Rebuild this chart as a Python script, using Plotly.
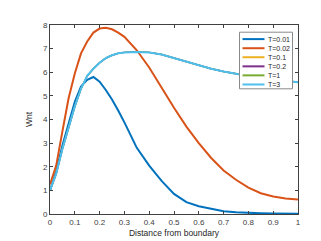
import plotly.graph_objects as go

x_vals = [0, 0.025, 0.05, 0.075, 0.1, 0.125, 0.15, 0.175, 0.2, 0.225, 0.25, 0.275, 0.3,
          0.35, 0.4, 0.45, 0.5, 0.55, 0.6, 0.65, 0.7, 0.75, 0.8, 0.85, 0.9, 0.95, 1.0]

wnt_T001 = [1.0, 1.8, 2.9, 3.85, 4.75, 5.4, 5.68, 5.8, 5.6, 5.25, 4.85, 4.38, 3.88,
            2.8, 2.05, 1.4, 0.85, 0.5, 0.33, 0.22, 0.12, 0.07, 0.04, 0.03, 0.02, 0.015, 0.01]
wnt_T002 = [1.25, 2.05, 3.5, 4.9, 5.95, 6.8, 7.3, 7.68, 7.85, 7.88, 7.82, 7.68, 7.5,
            6.93, 6.2, 5.34, 4.5, 3.7, 3.0, 2.37, 1.84, 1.45, 1.12, 0.88, 0.74, 0.66, 0.61]
wnt_T3 = [1.0, 1.7, 2.75, 3.7, 4.55, 5.3, 5.85, 6.15, 6.4, 6.6, 6.72, 6.8, 6.84,
          6.86, 6.84, 6.75, 6.6, 6.42, 6.28, 6.15, 6.03, 5.92, 5.84, 5.77, 5.7, 5.64, 5.58]
wnt_T01 = list(wnt_T3)
wnt_T02 = list(wnt_T3)
wnt_T1 = list(wnt_T3)

series_names = ["T=0.01", "T=0.02", "T=0.1", "T=0.2", "T=1", "T=3"]
series_data = [wnt_T001, wnt_T002, wnt_T01, wnt_T02, wnt_T1, wnt_T3]
colors = ["#0072BD", "#D95319", "#EDB120", "#7E2F8E", "#77AC30", "#4DBEEE"]
widths = [2, 2, 1.4, 1.4, 1.4, 2]

x_ticks = [0, 0.1, 0.2, 0.3, 0.4, 0.5, 0.6, 0.7, 0.8, 0.9, 1]
x_tick_labels = ["0", "0.1", "0.2", "0.3", "0.4", "0.5", "0.6", "0.7", "0.8", "0.9", "1"]
y_ticks = [0, 1, 2, 3, 4, 5, 6, 7, 8]

fig = go.Figure()
for name, ys, c, w in zip(series_names, series_data, colors, widths):
    fig.add_trace(go.Scatter(x=x_vals, y=ys, mode="lines", name=name,
                             line=dict(color=c, width=w), showlegend=False))

axis_col = "#404040"
font_fam = "Liberation Sans, Arial, sans-serif"
common = dict(showline=True, linecolor=axis_col, linewidth=1, mirror="ticks",
              ticks="inside", ticklen=3, tickcolor=axis_col, showgrid=False,
              zeroline=False, tickfont=dict(size=8, color=axis_col, family=font_fam))
fig.update_xaxes(range=[0, 1], tickvals=x_ticks, ticktext=x_tick_labels,
                 title=dict(text="Distance from boundary", font=dict(size=8.5, color="#262626", family=font_fam), standoff=4),
                 **common)
fig.update_yaxes(range=[0, 8], tickvals=y_ticks,
                 title=dict(text="Wnt", font=dict(size=8.5, color="#262626", family=font_fam), standoff=8),
                 **common)

# Manual compact legend (MATLAB style), in paper coordinates
L, R, T, B = 42, 290, 17, 214
def px(xp):
    return (xp - L) / (R - L)
def py(yp):
    return (B - yp) / (B - T)

fig.add_shape(type="rect", xref="paper", yref="paper",
              x0=px(231.5), x1=px(284.5), y0=py(83.5), y1=py(24.5),
              line=dict(color="#8a8a8a", width=1), fillcolor="white", layer="above")
row_y = [31.7, 41.2, 50.6, 60.1, 69.5, 79.0]
for name, c, ry in zip(series_names, colors, row_y):
    fig.add_shape(type="line", xref="paper", yref="paper",
                  x0=px(234.5), x1=px(256.5), y0=py(ry), y1=py(ry),
                  line=dict(color=c, width=2), layer="above")
    fig.add_annotation(xref="paper", yref="paper", x=px(257.5), y=py(ry),
                       text=name, showarrow=False, xanchor="left", yanchor="middle",
                       font=dict(size=7, color="#262626", family=font_fam))

fig.update_layout(width=321, height=241, margin=dict(l=L, r=321 - R, t=T, b=241 - B),
                  paper_bgcolor="white", plot_bgcolor="white", showlegend=False)
fig.write_html("out.html")
